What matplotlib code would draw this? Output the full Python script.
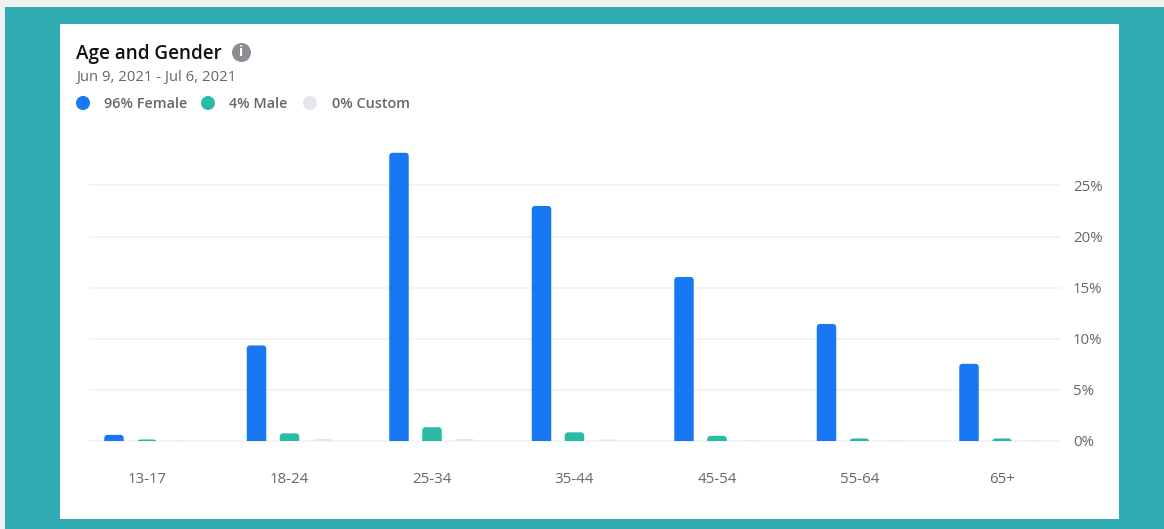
import matplotlib
matplotlib.use("Agg")
import matplotlib.pyplot as plt
from matplotlib.patches import FancyBboxPatch, Rectangle, Circle

W, H = 1164, 529
categories = ["13-17", "18-24", "25-34", "35-44", "45-54", "55-64", "65+"]
female = [0.6, 9.35, 28.2, 23.0, 16.05, 11.45, 7.55]
male = [0.15, 0.75, 1.35, 0.85, 0.5, 0.25, 0.25]
custom = [0.03, 0.2, 0.2, 0.15, 0.08, 0.06, 0.05]
y_ticks = [0, 5, 10, 15, 20, 25]
y_labels = ["0%", "5%", "10%", "15%", "20%", "25%"]
legend_labels = ["96% Female", "4% Male", "0% Custom"]
title = "Age and Gender"
subtitle = "Jun 9, 2021 - Jul 6, 2021"

BLUE, GREEN, GREY = "#1877f2", "#2abba7", "#e4e6eb"
TEXT, MUTED = "#65676b", "#606770"
FONT = "Open Sans"
plt.rcParams["font.family"] = [FONT, "DejaVu Sans"]

fig = plt.figure(figsize=(W / 100, H / 100), dpi=100, facecolor="#f0f0f0")
bg = fig.add_axes([0, 0, 1, 1])
bg.set_xlim(0, W)
bg.set_ylim(H, 0)
bg.axis("off")
bg.add_patch(Rectangle((5, 7), W - 5, H - 7, fc="#30adb3", ec="none"))
bg.add_patch(Rectangle((60, 24), 1059, 495, fc="white", ec="none"))

# title block
bg.text(76, 54.5, title, fontsize=13.6, color="#111111", weight=600, va="center", ha="left")
bg.add_patch(Circle((241.5, 52.5), 9.5, fc="#8a8d91", ec="none"))
bg.text(241.5, 52.5, "i", fontsize=10, color="white", weight="bold", va="center", ha="center")
bg.text(76, 77, subtitle, fontsize=10.7, color=MUTED, va="center", ha="left")
for cx, tx, lab, col in zip([83, 208, 310], [104, 229, 332], legend_labels, [BLUE, GREEN, GREY]):
    bg.add_patch(Circle((cx, 103), 7, fc=col, ec="none"))
    bg.text(tx, 104, lab, fontsize=10.4, color=TEXT, weight=600, va="center", ha="left")

# plot area: x 90..1060, y 130..441 px
left, right, top, bottom = 90, 1060, 130, 441
ax = fig.add_axes([left / W, 1 - bottom / H, (right - left) / W, (bottom - top) / H])
ax.patch.set_alpha(0)
step_px, first_px = 142.5, 147
ax.set_xlim((left - first_px) / step_px, (right - first_px) / step_px)
px_per_pct = 10.22
ax.set_ylim(0, (bottom - top) / px_per_pct)
for s in ax.spines.values():
    s.set_visible(False)

for t in y_ticks:
    ax.axhline(t, color="#f0f2f5", lw=1.2, zorder=1, clip_on=False)

width = 19.5 / step_px
offset = 33 / step_px
radius = 3.5 / step_px
aspect = step_px / px_per_pct
for vals, col, dx in zip([female, male, custom], [BLUE, GREEN, GREY], [-offset, 0, offset]):
    for i, v in enumerate(vals):
        below = 1.0
        ax.add_patch(FancyBboxPatch(
            (i + dx - width / 2, -below), width, v + below,
            boxstyle=f"round,pad=0,rounding_size={radius}",
            mutation_aspect=aspect, fc=col, ec="none", zorder=2))

ax.set_xticks(range(len(categories)), categories)
ax.yaxis.tick_right()
ax.set_yticks(y_ticks, y_labels)
ax.tick_params(axis="both", length=0, labelsize=10.8, labelcolor=TEXT)
ax.tick_params(axis="x", pad=22)
ax.tick_params(axis="y", pad=9.4)

fig.savefig("out.png", dpi=100, facecolor=fig.get_facecolor())
